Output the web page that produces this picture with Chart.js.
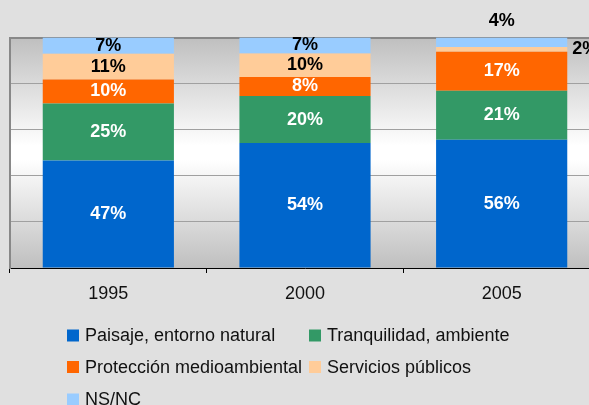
<!DOCTYPE html>
<html>
<head>
<meta charset="utf-8">
<script src="https://cdn.jsdelivr.net/npm/chart.js@4/dist/chart.umd.min.js"></script>
<style>
  html, body { margin: 0; padding: 0; background: #e0e0e0; overflow: hidden; }
  #wrap { width: 589px; height: 405px; overflow: hidden; position: relative; }
  #box { width: 600px; height: 405px; position: absolute; left: 0; top: 0; }
</style>
</head>
<body>
<div id="wrap"><div id="box"><canvas id="chart"></canvas></div></div>
<script>
// Data
const years = ['1995', '2000', '2005'];
const paisaje = [46.6, 54.2, 55.6];
const tranquilidad = [24.8, 20.4, 21.3];
const proteccion = [10.4, 8.3, 16.9];
const servicios = [11.2, 10.2, 2.1];
const nsnc = [7.0, 6.9, 4.1];
const seriesNames = ['Paisaje, entorno natural', 'Tranquilidad, ambiente', 'Protección medioambiental', 'Servicios públicos', 'NS/NC'];
const colors = ['#0066cc', '#339966', '#ff6600', '#ffcc99', '#99ccff'];
const labelColors = ['#ffffff', '#ffffff', '#ffffff', '#000000', '#000000'];

const FONT = '"Liberation Sans", Arial, sans-serif';

// Plot background: grey - white - grey
const plotBackground = {
    id: 'plotBackground',
    beforeDraw(chart) {
        const { ctx, chartArea: a } = chart;
        const g = ctx.createLinearGradient(0, a.top, 0, a.bottom);
        g.addColorStop(0, '#bfbfbf');
        g.addColorStop(0.47, '#ffffff');
        g.addColorStop(0.53, '#ffffff');
        g.addColorStop(1, '#bfbfbf');
        ctx.save();
        ctx.fillStyle = g;
        ctx.fillRect(a.left, a.top, a.right - a.left, a.bottom - a.top);
        ctx.restore();
    }
};

// Percent labels on the segments
const segmentLabels = {
    id: 'segmentLabels',
    afterDatasetsDraw(chart) {
        const ctx = chart.ctx;
        ctx.save();
        ctx.font = 'bold 18px ' + FONT;
        chart.data.datasets.forEach((ds, di) => {
            chart.getDatasetMeta(di).data.forEach((bar, i) => {
                const text = Math.round(ds.data[i]) + '%';
                const h = bar.base - bar.y;
                let x = bar.x, y = (bar.y + bar.base) / 2;
                ctx.fillStyle = labelColors[di];
                ctx.textAlign = 'center';
                ctx.textBaseline = 'middle';
                if (h < 14) {
                    ctx.fillStyle = '#000000';
                    if (di === chart.data.datasets.length - 1) {
                        y = bar.y - 16.5;
                    } else {
                        x = bar.x + bar.width / 2 + 5;
                        ctx.textAlign = 'left';
                    }
                }
                ctx.fillText(text, x, y);
            });
        });
        ctx.restore();
    }
};

// Two column legend under the axis
const gridLegend = {
    id: 'gridLegend',
    afterDraw(chart) {
        const ctx = chart.ctx;
        const colX = [67, 309];
        const rowY = [335.5, 367, 399.5];
        ctx.save();
        ctx.font = '18px ' + FONT;
        ctx.textAlign = 'left';
        ctx.textBaseline = 'middle';
        chart.data.datasets.forEach((ds, i) => {
            const x = colX[i % 2];
            const y = rowY[Math.floor(i / 2)];
            ctx.fillStyle = ds.backgroundColor;
            ctx.fillRect(x, y - 6, 12, 12);
            ctx.fillStyle = '#111111';
            ctx.fillText(ds.label, x + 18, y + 1);
        });
        ctx.restore();
    }
};

const seriesData = [paisaje, tranquilidad, proteccion, servicios, nsnc];

new Chart(document.getElementById('chart'), {
    type: 'bar',
    data: {
        labels: years,
        datasets: seriesData.map((d, i) => ({
            label: seriesNames[i],
            data: d,
            backgroundColor: colors[i],
            borderWidth: 0,
            categoryPercentage: 1,
            barPercentage: 0.667
        }))
    },
    options: {
        responsive: true,
        maintainAspectRatio: false,
        animation: false,
        layout: {
            padding: { left: 10, top: 37.5, right: 0, bottom: 90.4 }
        },
        plugins: {
            legend: { display: false },
            tooltip: { enabled: false }
        },
        scales: {
            x: {
                stacked: true,
                grid: {
                    drawOnChartArea: false,
                    drawTicks: true,
                    tickLength: 5,
                    color: '#000000'
                },
                border: { color: '#000000', width: 1 },
                ticks: {
                    color: '#111111',
                    font: { family: FONT, size: 18 },
                    padding: 10
                }
            },
            y: {
                stacked: true,
                min: 0,
                max: 100,
                ticks: { display: false, stepSize: 20 },
                grid: {
                    drawTicks: false,
                    color: ctx => ctx.tick && ctx.tick.value === 100 ? '#888888' : '#a0a0a0',
                    lineWidth: ctx => ctx.tick && ctx.tick.value === 100 ? 2 : 1
                },
                border: { color: '#888888', width: 2 }
            }
        }
    },
    plugins: [plotBackground, segmentLabels, gridLegend]
});
</script>
</body>
</html>
